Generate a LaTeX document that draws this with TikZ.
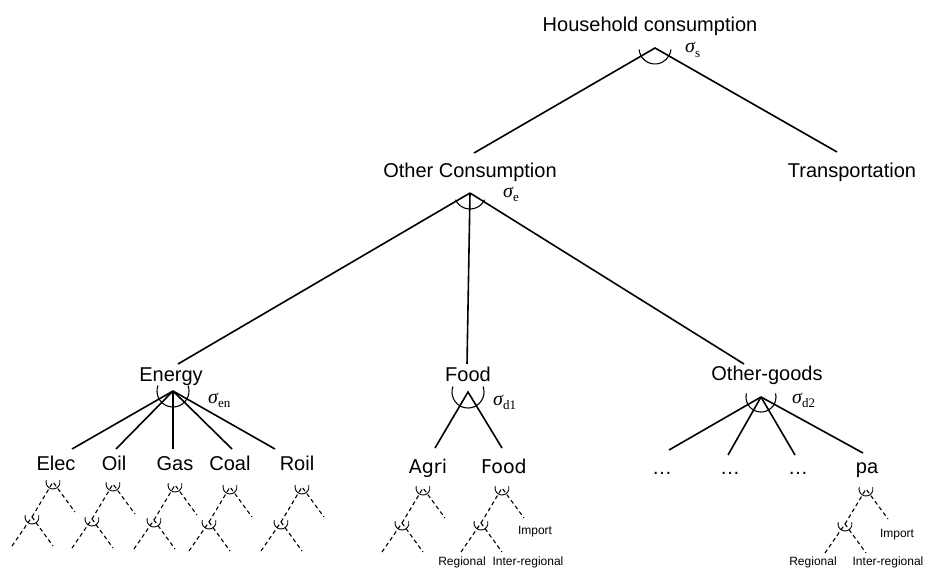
\documentclass[tikz,border=0pt]{standalone}
\usepackage{fontspec}
\setmainfont{Liberation Sans}
\newfontfamily\dvsans{DejaVu Sans}
\newfontfamily\serifgr{Liberation Serif}
\newcommand\nestarc[4]{%
  \draw[nest] (#1) ++(#2:#4pt) arc[start angle=#2, end angle=#3, radius=#4pt];}
% elasticity symbol: italic sigma with an upright subscript
\newcommand\elas[1]{{\serifgr\itshape σ}\raisebox{-0.45ex}{\serifgr\fontsize{13}{13}\selectfont #1}}
\tikzset{
  lbl/.style={font=\fontsize{20}{24}\selectfont, inner sep=0pt, anchor=base},
  lbldv/.style={font=\dvsans\fontsize{19}{23}\selectfont, inner sep=0pt, anchor=base},
  small/.style={font=\fontsize{12}{14}\selectfont, inner sep=0pt, anchor=base},
  sig/.style={font=\fontsize{20}{22}\selectfont, inner sep=0pt, anchor=base west},
  branch/.style={line width=1.6pt},
  nest/.style={line width=1.1pt},
  sub/.style={line width=1.1pt, dash pattern=on 4pt off 3pt},
  subnest/.style={line width=0.9pt},
  subtree/.pic={
    \coordinate (-a) at (0,0);
    \coordinate (-b) at (-21,35);
    \coordinate (-r) at (22,30);
    \coordinate (-bl) at (-41,64);
    \coordinate (-br) at (0,64);
    \draw[sub] (-b) -- (-a) -- (-r);
    \draw[sub] (-bl) -- (-b) -- (-br);
    \draw[subnest] (0,0) ++(165:7pt) arc[start angle=165, end angle=375, radius=7pt];
    \draw[subnest] (-21,35) ++(165:7pt) arc[start angle=165, end angle=375, radius=7pt];
  }
}
\begin{document}
\begin{tikzpicture}[x=1pt,y=-1pt]
\useasboundingbox (0,0) rectangle (925,567);

% top level
\node[lbl] (house) at (650,32) {Household consumption};
\coordinate (hApex) at (655,48);
\node[lbl] (other) at (470,177) {Other Consumption};
\node[lbl] (trans) at (852,177) {Transportation};
\coordinate (ocTop) at (474,153);
\coordinate (trTop) at (837,152);
\draw[branch] (ocTop) -- (hApex) -- (trTop);
\nestarc{hApex}{185}{355}{16}
\node[sig] (sigS) at (685,53) {\elas{s}};

% second level
\coordinate (ocApex) at (470,193);
\node[lbl] (energy) at (171,381) {Energy};
\node[lbl] (food) at (468,381) {Food};
\node[lbl] (goods) at (767,380) {Other-goods};
\coordinate (enTop) at (178,364);
\coordinate (fdTop) at (467,364);
\coordinate (ogTop) at (744,364);
\draw[branch] (ocApex) -- (enTop);
\draw[branch] (ocApex) -- (fdTop);
\draw[branch] (ocApex) -- (ogTop);
\nestarc{ocApex}{205}{335}{16}
\node[sig] (sigE) at (503,197) {\elas{e}};

% energy branch
\coordinate (enApex) at (173,391);
\node[lbl] (elec) at (56,470) {Elec};
\node[lbl] (oil) at (114,470) {Oil};
\node[lbl] (gas) at (175,470) {Gas};
\node[lbl] (coal) at (230,470) {Coal};
\node[lbl] (roil) at (297,470) {Roil};
\coordinate (elecTop) at (72,449);
\coordinate (oilTop) at (116,449);
\coordinate (gasTop) at (173,449);
\coordinate (coalTop) at (232,449);
\coordinate (roilTop) at (275,449);
\foreach \t in {elecTop,oilTop,gasTop,coalTop,roilTop}
  \draw[branch] (enApex) -- (\t);
\nestarc{enApex}{160}{380}{16}
\node[sig] (sigEn) at (208,403) {\elas{en}};

% food branch
\coordinate (fdApex) at (468,392);
\node[lbldv] (agri) at (428,473) {Agri};
\node[lbldv] (food2) at (504,473) {Food};
\coordinate (agriTop) at (435,448);
\coordinate (food2Top) at (502,448);
\draw[branch] (agriTop) -- (fdApex) -- (food2Top);
\nestarc{fdApex}{160}{380}{16}
\node[sig] (sigD1) at (493,405) {\elas{d1}};

% other goods branch
\coordinate (ogApex) at (761,397);
\node[lbl] (dotsA) at (662,474) {…};
\node[lbl] (dotsB) at (730,474) {…};
\node[lbl] (dotsC) at (798,474) {…};
\node[lbl] (pa) at (867,473) {pa};
\coordinate (dotsATop) at (669,450);
\coordinate (dotsBTop) at (728,455);
\coordinate (dotsCTop) at (795,455);
\coordinate (paTop) at (863,453);
\foreach \t in {dotsATop,dotsBTop,dotsCTop,paTop}
  \draw[branch] (ogApex) -- (\t);
\nestarc{ogApex}{166}{374}{15}
\node[sig] (sigD2) at (792,403) {\elas{d2}};

% nested sourcing trees
\pic (stElec) at (53,482) {subtree};
\pic (stOil) at (113,484) {subtree};
\pic (stGas) at (175,485) {subtree};
\pic (stCoal) at (230,487) {subtree};
\pic (stRoil) at (302,487) {subtree};
\pic (stAgri) at (423,488) {subtree};
\pic (stFood) at (502,488) {subtree};
\pic (stPa) at (866,489) {subtree};

% sourcing labels
\node[small] (fImp) at (535,534) {Import};
\node[small] (fReg) at (462,565) {Regional};
\node[small] (fInt) at (528,565) {Inter-regional};
\node[small] (pImp) at (897,537) {Import};
\node[small] (pReg) at (813,565) {Regional};
\node[small] (pInt) at (888,565) {Inter-regional};
\end{tikzpicture}
\end{document}
